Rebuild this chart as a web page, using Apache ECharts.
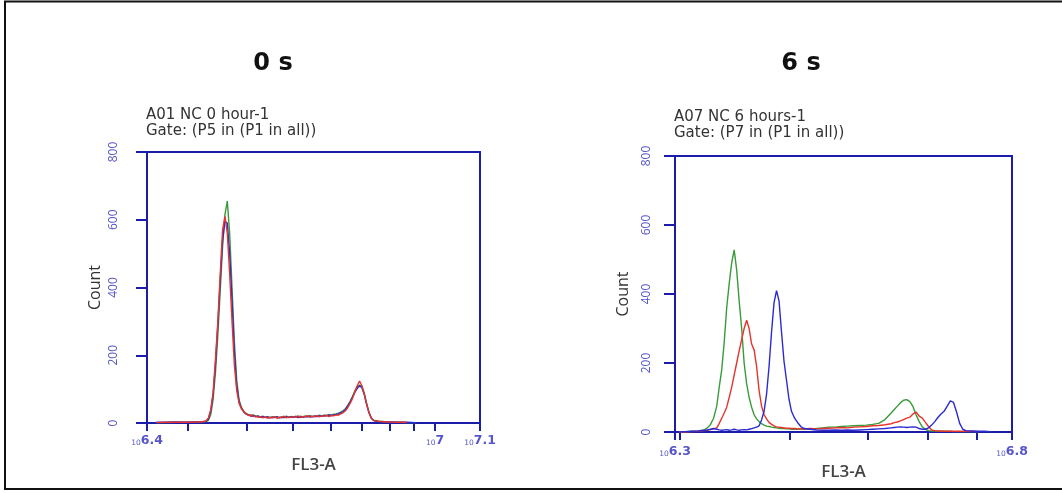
<!DOCTYPE html>
<html>
<head>
<meta charset="utf-8">
<script src="https://cdn.jsdelivr.net/npm/echarts@6/dist/echarts.min.js"></script>
<style>html,body{margin:0;padding:0;background:#fff;}#c{width:1062px;height:493px;}</style>
</head>
<body>
<div id="c"></div>
<script>
// ---------- Panel titles ----------
const panelTitles = ['0 s', '6 s'];
const panelSubtitles = ['A01 NC 0 hour-1\nGate: (P5 in (P1 in all))', 'A07 NC 6 hours-1\nGate: (P7 in (P1 in all))'];
const yTicks = [0, 200, 400, 600, 800];

// ---------- Left panel (0 s): x in log10(FL3-A) ----------
const leftRange = [6.39, 7.095];
const leftTickMultiples = [3, 4, 5, 6, 7, 8, 9, 10]; // x 10^6
const leftLabelValues = [6.39, 7, 7.095];
const leftLabelTexts = ['6.4', '7', '7.1'];
const leftX = [6.41, 6.43, 6.45, 6.47, 6.49, 6.505, 6.515,
  6.52, 6.525, 6.53, 6.535, 6.54, 6.545, 6.55, 6.555, 6.56, 6.565,
  6.57, 6.575, 6.58, 6.585, 6.59, 6.595, 6.6, 6.605, 6.61, 6.615,
  6.62, 6.625, 6.63, 6.635, 6.64, 6.645, 6.65, 6.655, 6.66, 6.665,
  6.67, 6.675, 6.68, 6.685, 6.69, 6.695, 6.7, 6.705, 6.71, 6.715,
  6.72, 6.725, 6.73, 6.735, 6.74, 6.745, 6.75, 6.755, 6.76, 6.765,
  6.77, 6.775, 6.78, 6.785, 6.79, 6.795, 6.8, 6.805, 6.81, 6.815,
  6.82, 6.825, 6.83, 6.835, 6.84, 6.845, 6.85, 6.855, 6.86, 6.865,
  6.87, 6.88, 6.9, 6.92, 6.94, 6.96];
const leftGreen = [1, 1, 2, 2, 2, 3, 4,
  8, 25, 70, 150, 260, 390, 520, 615, 655, 560,
  400, 240, 125, 68, 46, 35, 28, 25, 22, 24,
  20, 21, 18, 20, 17, 19, 16, 18, 17, 19,
  16, 18, 17, 20, 17, 19, 18, 20, 17, 20,
  18, 21, 19, 22, 19, 21, 20, 23, 21, 23,
  22, 25, 23, 26, 27, 29, 32, 36, 42, 52,
  64, 78, 95, 106, 112, 108, 88, 58, 32, 15,
  8, 5, 3, 2, 1, 1];
const leftBlue = [2, 2, 3, 2, 3, 3, 5,
  12, 35, 85, 175, 290, 420, 540, 595, 590, 500,
  360, 210, 110, 62, 43, 32, 26, 23, 20, 22,
  18, 20, 17, 19, 16, 18, 15, 17, 16, 18,
  15, 17, 16, 18, 16, 18, 17, 19, 16, 18,
  17, 19, 18, 20, 18, 20, 19, 21, 20, 22,
  21, 23, 22, 24, 25, 27, 30, 34, 40, 50,
  62, 76, 90, 102, 110, 104, 84, 55, 30, 14,
  7, 4, 3, 2, 2, 1];
const leftRed = [1, 2, 2, 2, 3, 3, 6,
  15, 40, 90, 190, 300, 440, 570, 610, 560, 440,
  300, 170, 95, 58, 42, 33, 27, 22, 24, 19,
  21, 17, 19, 15, 18, 14, 17, 15, 19, 14,
  17, 16, 20, 15, 18, 16, 19, 17, 21, 16,
  19, 18, 22, 17, 20, 19, 22, 18, 21, 20,
  23, 19, 22, 21, 24, 23, 27, 30, 36, 45,
  58, 72, 92, 110, 124, 110, 85, 55, 30, 14,
  7, 5, 3, 2, 2, null];

// ---------- Right panel (6 s) ----------
const rightRange = [6.293, 6.834];
const rightTickMultiples = [2, 3, 4, 5, 6]; // x 10^6
const rightLabelValues = [6.293, 6.834];
const rightLabelTexts = ['6.3', '6.8'];
const rightX = [6.30, 6.31, 6.32, 6.33, 6.34, 6.345, 6.35, 6.355, 6.36,
  6.364, 6.368, 6.372, 6.376, 6.38, 6.384, 6.388, 6.392, 6.396, 6.4,
  6.404, 6.408, 6.412, 6.416, 6.42, 6.424, 6.428, 6.432, 6.436, 6.44,
  6.444, 6.448, 6.452, 6.456, 6.46, 6.464, 6.468, 6.472, 6.476, 6.48,
  6.485, 6.49, 6.495, 6.5, 6.51, 6.52, 6.53, 6.54, 6.55, 6.56, 6.57,
  6.58, 6.59, 6.6, 6.61, 6.62, 6.63, 6.64, 6.645, 6.65, 6.655, 6.66,
  6.665, 6.67, 6.675, 6.68, 6.685, 6.69, 6.695, 6.7, 6.705, 6.71,
  6.715, 6.72, 6.725, 6.73, 6.735, 6.74, 6.745, 6.75, 6.755, 6.76,
  6.77, 6.78, 6.79, 6.8];
const rightGreen = [0, 1, 2, 3, 6, 12, 22, 40, 75,
  130, 180, 260, 360, 430, 490, 528, 470, 380, 300,
  200, 140, 100, 72, 50, 38, 30, 24, 20, 17,
  16, 14, 13, 12, 11, 10, 10, 9, 9, 8,
  8, 8, 9, 8, 9, 10, 12, 14, 14, 16, 17,
  18, 19, 20, 22, 25, 36, 55, 65, 75, 85, 92,
  94, 88, 74, 50, 30, 15, 8, 4, 3, 3,
  2, 2, 2, 2, 2, 1, 1, 1, 1, 1,
  1, 1, null, null];
const rightBlue = [0, 1, 2, 3, 5, 6, 8, 10, 8,
  6, 5, 6, 7, 5, 6, 8, 6, 5, 6,
  7, 6, 8, 10, 12, 14, 18, 35, 60, 110,
  190, 290, 375, 410, 380, 290, 205, 150, 95, 60,
  40, 27, 16, 10, 8, 6, 5, 5, 6, 5, 6,
  5, 6, 7, 8, 9, 10, 12, 13, 14, 15, 14,
  13, 14, 15, 14, 10, 8, 8, 12, 20, 30,
  42, 52, 60, 75, 90, 86, 58, 25, 8, 4,
  3, 2, 2, 1];
const rightRed = [0, 0, 1, 2, 4, 5, 7, 9, 12,
  25, 40, 55, 72, 100, 130, 165, 200, 235, 268,
  300, 324, 300, 255, 238, 190, 120, 75, 50, 38,
  28, 22, 18, 15, 14, 13, 12, 11, 11, 10,
  10, 9, 10, 9, 10, 9, 10, 11, 12, 13, 12,
  14, 15, 16, 18, 19, 21, 24, 27, 29, 32, 36,
  40, 43, 52, 58, 46, 40, 28, 16, 6, 4,
  3, 3, 2, 2, 2, 2, 2, 2, 2, 2,
  2, 1, null, null];

const seriesColors = { green: '#3a9a3a', blue: '#2a2ad2', red: '#e8322c' };
const frameColor = '#1c1caa';
const labelColor = '#5656c8';

function pairs(xs, ys) {
  const out = [];
  xs.forEach((x, i) => { if (ys[i] != null) out.push([x, ys[i]]); });
  return out;
}

function xAxisFor(gridIndex, range, multiples, labelValues, labelTexts, nameGap, labelMargin) {
  const ticks = [range[0]].concat(multiples.map(m => Math.log10(m * 1e6))).concat([range[1]]);
  return {
    gridIndex: gridIndex, type: 'value', min: range[0], max: range[1],
    name: 'FL3-A', nameLocation: 'middle', nameGap: nameGap,
    nameTextStyle: { fontSize: 17, color: '#444', fontFamily: 'Open Sans', fontWeight: 600 },
    splitLine: { show: false },
    axisLine: { show: true, lineStyle: { color: frameColor, width: 2 } },
    axisTick: { show: true, customValues: ticks, length: 8, lineStyle: { color: frameColor, width: 2 } },
    axisLabel: {
      customValues: labelValues, margin: labelMargin, showMinLabel: true, showMaxLabel: true,
      formatter: function (v) {
        let idx = -1;
        labelValues.forEach((lv, i) => { if (Math.abs(lv - v) < 1e-6) idx = i; });
        const t = idx >= 0 ? labelTexts[idx] : String(v);
        return '{b|10}{e|' + t + '}';
      },
      rich: {
        b: { fontSize: 7.5, color: labelColor, verticalAlign: 'bottom', lineHeight: 5, fontFamily: 'DejaVu Sans' },
        e: { fontSize: 12.5, fontWeight: 'bold', color: labelColor, verticalAlign: 'bottom', lineHeight: 14, fontFamily: 'DejaVu Sans' }
      }
    }
  };
}

function yAxisFor(gridIndex, margin, nameGap) {
  return {
    gridIndex: gridIndex, type: 'value', min: yTicks[0], max: yTicks[yTicks.length - 1], interval: 200,
    name: 'Count', nameLocation: 'middle', nameRotate: 90, nameGap: nameGap,
    nameTextStyle: { fontSize: 16, color: '#333', fontFamily: 'Open Sans' },
    splitLine: { show: false },
    axisLine: { show: true, lineStyle: { color: frameColor, width: 2 } },
    axisTick: { show: true, length: 11, lineStyle: { color: frameColor, width: 2 } },
    axisLabel: { rotate: 90, margin: margin, fontSize: 12, color: labelColor, fontFamily: 'Open Sans' }
  };
}

function line(name, color, xi, data) {
  return {
    name: name, type: 'line', xAxisIndex: xi, yAxisIndex: xi, data: data,
    showSymbol: false, symbol: 'none', smooth: false,
    lineStyle: { color: color, width: 1.4 }, itemStyle: { color: color },
    z: 3
  };
}

const bigTitle = { fontSize: 24, fontWeight: 'bold', color: '#111', fontFamily: 'DejaVu Sans' };
const subTitle = { fontSize: 15, fontWeight: 'normal', color: '#333', lineHeight: 16, fontFamily: 'DejaVu Sans' };

const chart = echarts.init(document.getElementById('c'), null, { renderer: 'canvas' });
chart.setOption({
  animation: false,
  backgroundColor: '#fff',
  title: [
    { text: panelTitles[0], left: 268, top: 47, textAlign: 'center', textStyle: bigTitle },
    { text: panelTitles[1], left: 796, top: 47, textAlign: 'center', textStyle: bigTitle },
    { text: panelSubtitles[0], left: 146, top: 107, padding: 0, textStyle: subTitle },
    { text: panelSubtitles[1], left: 674, top: 109, padding: 0, textStyle: subTitle }
  ],
  grid: [
    { left: 147, top: 152, width: 333, height: 271, show: true, borderColor: frameColor, borderWidth: 2, backgroundColor: 'transparent', containLabel: false, outerBoundsMode: 'none' },
    { left: 675, top: 156, width: 337, height: 276, show: true, borderColor: frameColor, borderWidth: 2, backgroundColor: 'transparent', containLabel: false, outerBoundsMode: 'none' }
  ],
  xAxis: [
    xAxisFor(0, leftRange, leftTickMultiples, leftLabelValues, leftLabelTexts, 34, 10),
    xAxisFor(1, rightRange, rightTickMultiples, rightLabelValues, rightLabelTexts, 32, 12)
  ],
  yAxis: [yAxisFor(0, 27, 44), yAxisFor(1, 22, 44)],
  series: [
    line('green', seriesColors.green, 0, pairs(leftX, leftGreen)),
    line('blue', seriesColors.blue, 0, pairs(leftX, leftBlue)),
    line('red', seriesColors.red, 0, pairs(leftX, leftRed)),
    line('green', seriesColors.green, 1, pairs(rightX, rightGreen)),
    line('red', seriesColors.red, 1, pairs(rightX, rightRed)),
    line('blue', seriesColors.blue, 1, pairs(rightX, rightBlue))
  ],
  graphic: [
    { type: 'rect', shape: { x: 5, y: 1.5, width: 1080, height: 487.5 }, style: { fill: 'none', stroke: '#111', lineWidth: 2 }, silent: true }
  ]
});
</script>
</body>
</html>
